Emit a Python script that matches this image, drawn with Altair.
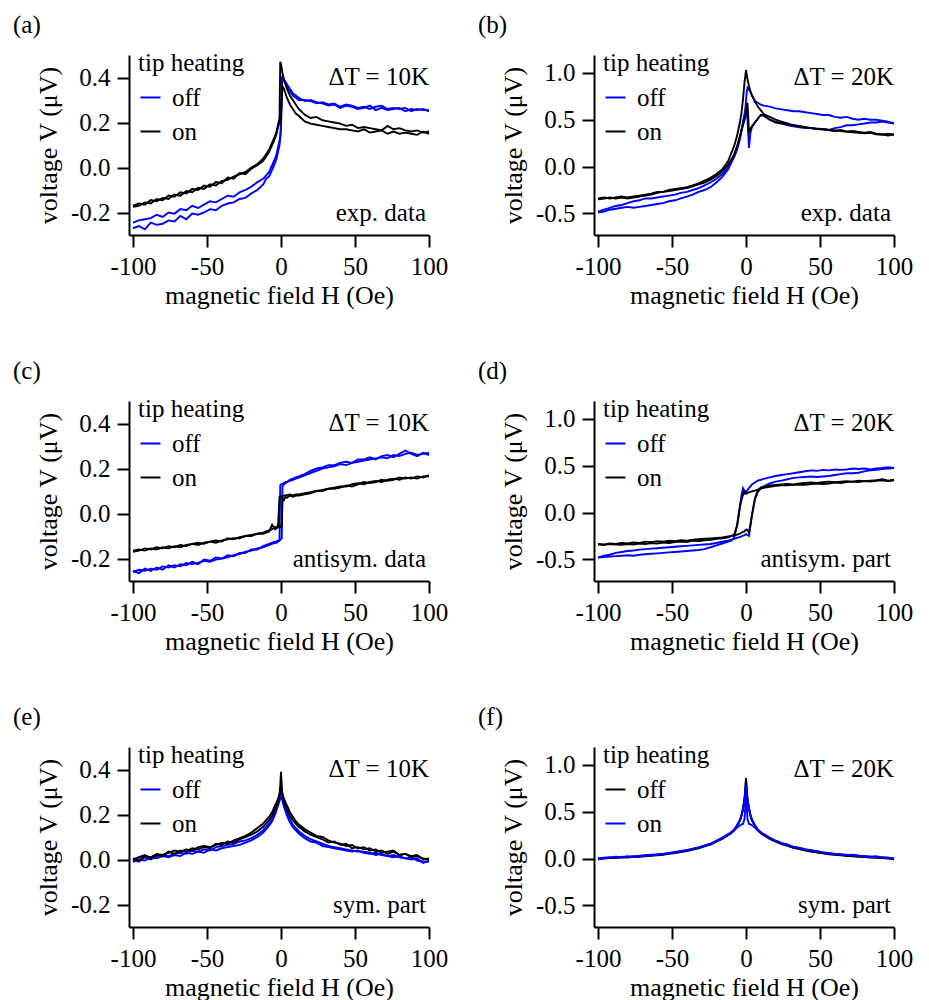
import altair as alt
import pandas as pd

# ---------------- field grid (Oe), shared by every branch ----------------
H = [-100, -96, -92, -88, -84, -80, -76, -72, -68, -64, -60, -56, -52, -48, -44, -40, -36, -32, -28, -24, -20, -16, -12,
     -10, -8, -6, -4, -3, -2, -1, -0.5, 0, 0.5, 1, 2, 3, 4, 6, 8, 10,
     12, 16, 20, 24, 28, 32, 36, 40, 44, 48, 52, 56, 60, 64, 68, 72, 76, 80, 84, 88, 92, 96, 100]

# ---------------- (a) exp. data, dT = 10K ----------------
a_off_up = [-0.27, -0.26, -0.275, -0.245, -0.255, -0.25, -0.235, -0.24, -0.215, -0.23, -0.205, -0.21, -0.2, -0.185, -0.19, -0.17, -0.16, -0.155, -0.14, -0.135, -0.115, -0.1, -0.075,
            -0.05, -0.04, -0.01, 0.02, 0.04, 0.07, 0.1, 0.13, 0.17, 0.3, 0.41, 0.39, 0.38, 0.36, 0.34, 0.32, 0.31,
            0.3, 0.3, 0.295, 0.285, 0.29, 0.28, 0.285, 0.27, 0.28, 0.275, 0.265, 0.27, 0.26, 0.27, 0.275, 0.26, 0.265, 0.26, 0.265, 0.25, 0.26, 0.255, 0.255]
a_off_dn = [-0.245, -0.235, -0.23, -0.225, -0.21, -0.22, -0.2, -0.205, -0.185, -0.19, -0.17, -0.18, -0.165, -0.15, -0.155, -0.14, -0.125, -0.13, -0.11, -0.1, -0.085, -0.065, -0.05,
            -0.035, -0.02, 0.01, 0.04, 0.06, 0.09, 0.12, 0.14, 0.2, 0.4, 0.4, 0.39, 0.38, 0.37, 0.35, 0.33, 0.32,
            0.31, 0.295, 0.3, 0.29, 0.285, 0.275, 0.28, 0.265, 0.275, 0.27, 0.26, 0.265, 0.275, 0.255, 0.265, 0.255, 0.26, 0.265, 0.25, 0.26, 0.255, 0.26, 0.25]
a_on_dn = [-0.17, -0.16, -0.165, -0.145, -0.15, -0.135, -0.14, -0.12, -0.125, -0.105, -0.11, -0.09, -0.095, -0.075, -0.08, -0.06, -0.055, -0.04, -0.03, -0.02, 0.0, 0.015, 0.04,
           0.06, 0.08, 0.11, 0.14, 0.16, 0.19, 0.22, 0.47, 0.46, 0.44, 0.42, 0.39, 0.37, 0.35, 0.32, 0.3, 0.28,
           0.26, 0.235, 0.22, 0.225, 0.21, 0.205, 0.2, 0.195, 0.185, 0.19, 0.175, 0.18, 0.175, 0.17, 0.165, 0.185, 0.17, 0.175, 0.165, 0.16, 0.165, 0.155, 0.16]
a_on_up = [-0.175, -0.17, -0.155, -0.16, -0.14, -0.145, -0.125, -0.13, -0.11, -0.115, -0.095, -0.1, -0.08, -0.085, -0.065, -0.07, -0.045, -0.05, -0.025, -0.03, -0.005, 0.01, 0.03,
           0.05, 0.07, 0.1, 0.13, 0.15, 0.18, 0.2, 0.21, 0.23, 0.3, 0.36, 0.35, 0.33, 0.31, 0.28, 0.26, 0.24,
           0.23, 0.205, 0.195, 0.19, 0.185, 0.18, 0.175, 0.17, 0.17, 0.165, 0.16, 0.17, 0.155, 0.16, 0.165, 0.15, 0.16, 0.15, 0.155, 0.15, 0.145, 0.16, 0.15]

# ---------------- (b) exp. data, dT = 20K ----------------
b_off_up = [-0.49, -0.48, -0.46, -0.45, -0.44, -0.43, -0.44, -0.43, -0.42, -0.41, -0.4, -0.39, -0.37, -0.36, -0.34, -0.32, -0.3, -0.27, -0.25, -0.22, -0.17, -0.11, -0.03,
            0.04, 0.11, 0.2, 0.32, 0.4, 0.48, 0.56, 0.6, 0.64, 0.58, 0.5, 0.2, 0.36, 0.42, 0.47, 0.51, 0.55,
            0.54, 0.5, 0.48, 0.46, 0.44, 0.43, 0.42, 0.41, 0.41, 0.4, 0.4, 0.39, 0.41, 0.42, 0.44, 0.44, 0.45, 0.46, 0.47, 0.47, 0.48, 0.47, 0.46]
b_off_dn = [-0.48, -0.46, -0.44, -0.42, -0.41, -0.39, -0.37, -0.36, -0.34, -0.34, -0.33, -0.32, -0.31, -0.3, -0.28, -0.27, -0.25, -0.23, -0.2, -0.17, -0.13, -0.08, -0.01,
            0.05, 0.1, 0.18, 0.3, 0.38, 0.46, 0.55, 0.6, 0.7, 0.8, 0.84, 0.82, 0.8, 0.76, 0.7, 0.68, 0.66,
            0.65, 0.64, 0.62, 0.61, 0.6, 0.59, 0.59, 0.58, 0.57, 0.56, 0.55, 0.55, 0.53, 0.52, 0.53, 0.51, 0.5, 0.51, 0.5, 0.5, 0.49, 0.48, 0.46]
b_on_dn = [-0.34, -0.33, -0.34, -0.33, -0.32, -0.33, -0.32, -0.31, -0.3, -0.29, -0.27, -0.27, -0.25, -0.24, -0.23, -0.22, -0.2, -0.18, -0.15, -0.12, -0.08, -0.03, 0.06,
           0.14, 0.22, 0.33, 0.48, 0.58, 0.72, 0.9, 0.96, 1.03, 0.98, 0.93, 0.86, 0.8, 0.76, 0.69, 0.64, 0.6,
           0.56, 0.53, 0.5, 0.48, 0.46, 0.44, 0.43, 0.42, 0.41, 0.4, 0.395, 0.39, 0.385, 0.38, 0.37, 0.365, 0.36, 0.355, 0.36, 0.345, 0.34, 0.35, 0.34]
b_on_up = [-0.35, -0.34, -0.33, -0.34, -0.33, -0.34, -0.33, -0.32, -0.31, -0.3, -0.28, -0.27, -0.26, -0.25, -0.24, -0.23, -0.21, -0.19, -0.17, -0.14, -0.1, -0.05, 0.02,
           0.07, 0.13, 0.22, 0.33, 0.39, 0.44, 0.5, 0.53, 0.58, 0.65, 0.68, 0.37, 0.4, 0.43, 0.47, 0.51, 0.55,
           0.55, 0.5, 0.47, 0.46, 0.45, 0.44, 0.43, 0.42, 0.41, 0.405, 0.4, 0.39, 0.38, 0.39, 0.375, 0.38, 0.37, 0.36, 0.37, 0.35, 0.345, 0.33, 0.345]

# ---------------- (c) antisym. data, dT = 10K ----------------
c_off_dn = [-0.26, -0.25, -0.255, -0.245, -0.25, -0.235, -0.24, -0.23, -0.235, -0.22, -0.225, -0.22, -0.21, -0.215, -0.205, -0.2, -0.195, -0.185, -0.18, -0.17, -0.165, -0.155, -0.15,
            -0.145, -0.14, -0.135, -0.13, -0.13, -0.125, -0.12, 0.125, 0.13, 0.13, 0.13, 0.135, 0.14, 0.14, 0.145, 0.15, 0.155,
            0.16, 0.17, 0.18, 0.19, 0.2, 0.205, 0.21, 0.22, 0.215, 0.225, 0.23, 0.235, 0.24, 0.245, 0.25, 0.245, 0.26, 0.255, 0.265, 0.27, 0.26, 0.265, 0.27]
c_off_up = [-0.255, -0.265, -0.245, -0.255, -0.24, -0.25, -0.23, -0.24, -0.225, -0.23, -0.215, -0.225, -0.205, -0.21, -0.195, -0.2, -0.185, -0.19, -0.175, -0.175, -0.16, -0.16, -0.145,
            -0.14, -0.135, -0.13, -0.125, -0.125, -0.12, -0.12, -0.115, -0.115, -0.11, 0.12, 0.13, 0.135, 0.14, 0.15, 0.155, 0.16,
            0.165, 0.175, 0.19, 0.2, 0.205, 0.215, 0.215, 0.225, 0.23, 0.225, 0.24, 0.24, 0.25, 0.24, 0.255, 0.26, 0.25, 0.265, 0.28, 0.265, 0.255, 0.27, 0.26]
c_on_dn = [-0.165, -0.16, -0.165, -0.155, -0.16, -0.15, -0.155, -0.145, -0.15, -0.14, -0.135, -0.14, -0.13, -0.125, -0.13, -0.12, -0.115, -0.11, -0.11, -0.1, -0.095, -0.09, -0.09,
           -0.085, -0.08, -0.05, -0.07, -0.065, -0.06, 0.075, 0.075, 0.075, 0.075, 0.078, 0.08, 0.08, 0.082, 0.085, 0.08, 0.085,
           0.085, 0.09, 0.095, 0.1, 0.105, 0.11, 0.115, 0.12, 0.12, 0.13, 0.135, 0.13, 0.14, 0.145, 0.14, 0.15, 0.155, 0.15, 0.16, 0.155, 0.165, 0.16, 0.17]
c_on_up = [-0.17, -0.165, -0.155, -0.16, -0.15, -0.155, -0.145, -0.15, -0.14, -0.145, -0.135, -0.13, -0.135, -0.125, -0.12, -0.125, -0.11, -0.115, -0.105, -0.1, -0.1, -0.09, -0.085,
           -0.08, -0.075, -0.07, -0.06, -0.065, -0.05, -0.06, -0.055, -0.06, -0.055, 0.07, 0.06, 0.075, 0.07, 0.08, 0.075, 0.08,
           0.08, 0.085, 0.09, 0.1, 0.1, 0.11, 0.11, 0.115, 0.125, 0.12, 0.13, 0.14, 0.135, 0.14, 0.15, 0.145, 0.15, 0.16, 0.155, 0.16, 0.155, 0.165, 0.165]

# ---------------- (d) antisym. part, dT = 20K ----------------
d_off_dn = [-0.48, -0.475, -0.47, -0.465, -0.46, -0.455, -0.46, -0.45, -0.445, -0.44, -0.435, -0.43, -0.425, -0.42, -0.415, -0.41, -0.405, -0.4, -0.39, -0.37, -0.35, -0.33, -0.31,
            -0.3, -0.27, -0.13, 0.08, 0.19, 0.26, 0.23, 0.22, 0.22, 0.23, 0.24, 0.26, 0.28, 0.3, 0.32, 0.34, 0.35,
            0.36, 0.375, 0.39, 0.4, 0.41, 0.42, 0.43, 0.44, 0.45, 0.445, 0.455, 0.45, 0.46, 0.455, 0.46, 0.47, 0.465, 0.47, 0.46, 0.47, 0.475, 0.485, 0.475]
d_off_up = [-0.48, -0.46, -0.45, -0.43, -0.42, -0.41, -0.405, -0.395, -0.39, -0.385, -0.38, -0.375, -0.37, -0.365, -0.36, -0.355, -0.35, -0.345, -0.34, -0.335, -0.325, -0.31, -0.3,
            -0.29, -0.28, -0.27, -0.26, -0.255, -0.245, -0.24, -0.235, -0.23, -0.235, -0.24, -0.25, -0.14, -0.03, 0.15, 0.24, 0.27,
            0.28, 0.31, 0.33, 0.34, 0.355, 0.37, 0.375, 0.38, 0.385, 0.38, 0.385, 0.39, 0.4, 0.41, 0.42, 0.42, 0.425, 0.44, 0.45, 0.455, 0.465, 0.47, 0.475]
d_on_dn = [-0.34, -0.345, -0.335, -0.34, -0.345, -0.335, -0.34, -0.33, -0.335, -0.325, -0.33, -0.32, -0.325, -0.315, -0.31, -0.315, -0.3, -0.305, -0.295, -0.29, -0.28, -0.275, -0.265,
           -0.25, -0.235, -0.14, 0.07, 0.14, 0.19, 0.24, 0.2, 0.2, 0.205, 0.21, 0.215, 0.22, 0.225, 0.235, 0.245, 0.255,
           0.265, 0.275, 0.285, 0.29, 0.29, 0.295, 0.3, 0.295, 0.305, 0.31, 0.305, 0.31, 0.32, 0.315, 0.325, 0.33, 0.325, 0.335, 0.33, 0.34, 0.345, 0.335, 0.345]
d_on_up = [-0.335, -0.34, -0.33, -0.335, -0.325, -0.33, -0.32, -0.325, -0.31, -0.315, -0.305, -0.31, -0.3, -0.305, -0.295, -0.3, -0.29, -0.285, -0.28, -0.275, -0.27, -0.265, -0.255,
           -0.25, -0.245, -0.235, -0.225, -0.215, -0.205, -0.2, -0.19, -0.185, -0.18, -0.19, -0.21, -0.13, -0.03, 0.14, 0.22, 0.26,
           0.275, 0.29, 0.295, 0.3, 0.305, 0.3, 0.31, 0.315, 0.32, 0.315, 0.325, 0.33, 0.325, 0.33, 0.335, 0.33, 0.34, 0.335, 0.34, 0.345, 0.355, 0.34, 0.35]

# ---------------- (e) sym. part, dT = 10K ----------------
e_off_1 = [-0.01, 0.0, -0.005, 0.01, 0.005, 0.015, 0.01, 0.02, 0.015, 0.03, 0.025, 0.035, 0.03, 0.045, 0.04, 0.05, 0.055, 0.06, 0.065, 0.075, 0.085, 0.1, 0.12,
           0.135, 0.15, 0.17, 0.2, 0.22, 0.24, 0.26, 0.27, 0.28, 0.27, 0.26, 0.235, 0.215, 0.195, 0.165, 0.145, 0.13,
           0.115, 0.095, 0.08, 0.075, 0.06, 0.055, 0.05, 0.045, 0.04, 0.035, 0.04, 0.03, 0.025, 0.03, 0.02, 0.015, 0.02, 0.01, 0.005, 0.01, -0.005, -0.01, -0.01]
e_off_2 = [0.0, -0.01, 0.01, 0.0, 0.015, 0.02, 0.015, 0.025, 0.03, 0.025, 0.04, 0.035, 0.045, 0.04, 0.055, 0.06, 0.065, 0.07, 0.08, 0.085, 0.095, 0.11, 0.13,
           0.145, 0.16, 0.18, 0.21, 0.23, 0.26, 0.28, 0.295, 0.31, 0.295, 0.28, 0.255, 0.23, 0.21, 0.18, 0.155, 0.14,
           0.125, 0.105, 0.09, 0.08, 0.07, 0.06, 0.055, 0.05, 0.045, 0.04, 0.035, 0.035, 0.03, 0.02, 0.025, 0.015, 0.01, 0.015, 0.005, 0.0, 0.005, -0.015, -0.005]
e_on_1 = [0.0, 0.01, 0.02, 0.005, 0.02, 0.015, 0.035, 0.025, 0.04, 0.035, 0.05, 0.045, 0.055, 0.05, 0.07, 0.065, 0.08, 0.075, 0.09, 0.1, 0.11, 0.125, 0.145,
          0.16, 0.175, 0.195, 0.22, 0.24, 0.26, 0.29, 0.33, 0.39, 0.33, 0.29, 0.26, 0.24, 0.22, 0.195, 0.175, 0.16,
          0.145, 0.125, 0.11, 0.1, 0.09, 0.075, 0.08, 0.065, 0.07, 0.05, 0.055, 0.045, 0.05, 0.035, 0.04, 0.025, 0.035, 0.02, 0.025, 0.01, 0.015, 0.005, 0.0]
e_on_2 = [0.005, -0.005, 0.015, 0.01, 0.025, 0.02, 0.03, 0.04, 0.035, 0.045, 0.04, 0.055, 0.06, 0.055, 0.065, 0.075, 0.07, 0.085, 0.095, 0.105, 0.12, 0.14, 0.16,
          0.175, 0.19, 0.21, 0.24, 0.255, 0.27, 0.29, 0.3, 0.31, 0.3, 0.29, 0.27, 0.255, 0.24, 0.21, 0.19, 0.17,
          0.155, 0.135, 0.12, 0.105, 0.1, 0.085, 0.075, 0.07, 0.06, 0.065, 0.05, 0.055, 0.04, 0.045, 0.03, 0.035, 0.04, 0.02, 0.025, 0.015, 0.02, 0.0, 0.005]

# ---------------- (f) sym. part, dT = 20K ----------------
f_off_1 = [0.0, 0.005, 0.01, 0.005, 0.015, 0.01, 0.02, 0.02, 0.025, 0.03, 0.035, 0.04, 0.05, 0.06, 0.07, 0.08, 0.095, 0.11, 0.13, 0.15, 0.18, 0.21, 0.25,
           0.27, 0.3, 0.35, 0.41, 0.46, 0.53, 0.63, 0.72, 0.86, 0.72, 0.63, 0.53, 0.46, 0.41, 0.35, 0.3, 0.27,
           0.25, 0.21, 0.18, 0.155, 0.135, 0.115, 0.1, 0.085, 0.075, 0.065, 0.055, 0.045, 0.04, 0.035, 0.03, 0.025, 0.02, 0.015, 0.01, 0.01, 0.005, 0.0, -0.005]
f_off_2 = [-0.005, 0.0, 0.005, 0.01, 0.01, 0.015, 0.015, 0.025, 0.03, 0.035, 0.04, 0.045, 0.055, 0.065, 0.075, 0.085, 0.1, 0.115, 0.135, 0.155, 0.185, 0.215, 0.255,
           0.275, 0.305, 0.355, 0.415, 0.465, 0.54, 0.64, 0.73, 0.84, 0.73, 0.64, 0.54, 0.465, 0.415, 0.355, 0.305, 0.275,
           0.255, 0.215, 0.185, 0.16, 0.14, 0.12, 0.105, 0.09, 0.08, 0.07, 0.06, 0.05, 0.045, 0.04, 0.03, 0.03, 0.025, 0.02, 0.015, 0.01, 0.005, 0.005, 0.0]
f_on_1 = [0.0, 0.01, 0.015, 0.01, 0.02, 0.015, 0.025, 0.025, 0.03, 0.035, 0.04, 0.05, 0.055, 0.065, 0.075, 0.09, 0.1, 0.12, 0.135, 0.155, 0.185, 0.22, 0.26,
          0.28, 0.3, 0.33, 0.355, 0.365, 0.37, 0.42, 0.55, 0.78, 0.55, 0.42, 0.37, 0.365, 0.355, 0.33, 0.3, 0.28,
          0.26, 0.225, 0.19, 0.165, 0.145, 0.125, 0.11, 0.095, 0.085, 0.075, 0.065, 0.055, 0.05, 0.045, 0.04, 0.035, 0.03, 0.025, 0.02, 0.015, 0.015, 0.01, 0.0]
f_on_2 = [-0.01, 0.005, 0.01, 0.02, 0.015, 0.025, 0.02, 0.03, 0.035, 0.04, 0.045, 0.05, 0.06, 0.07, 0.08, 0.09, 0.105, 0.12, 0.14, 0.16, 0.19, 0.225, 0.26,
          0.28, 0.31, 0.355, 0.41, 0.46, 0.53, 0.62, 0.7, 0.78, 0.7, 0.62, 0.53, 0.46, 0.41, 0.355, 0.31, 0.28,
          0.26, 0.22, 0.19, 0.165, 0.15, 0.125, 0.115, 0.1, 0.09, 0.08, 0.065, 0.06, 0.05, 0.045, 0.035, 0.04, 0.03, 0.025, 0.02, 0.025, 0.01, 0.01, -0.01]

X_TICKS = [-100, -50, 0, 50, 100]
Y_TICKS_SMALL = [-0.2, 0.0, 0.2, 0.4]
Y_TICKS_LARGE = [-0.5, 0.0, 0.5, 1.0]

FONT = "Liberation Serif"
BLUE = "#0000ff"
BLACK = "#000000"
W, HT = 300, 180
FS = 25


def frame(state, branches):
    rows = []
    for b, vals in enumerate(branches):
        assert len(vals) == len(H)
        for i, (h, v) in enumerate(zip(H, vals)):
            rows.append({"H": h, "V": v, "state": state, "branch": f"{state}{b}", "i": i})
    return pd.DataFrame(rows)


def panel(label, dt, note, off, on, colors, ydom, yticks):
    x = alt.X("H:Q", scale=alt.Scale(domain=[-102.7, 100], nice=False, zero=False),
              axis=alt.Axis(values=X_TICKS, title="magnetic field H (Oe)", labelFlush=False,
                            labelExpr="datum.value < 0 ? '-' + format(-datum.value, 'd') : format(datum.value, 'd')"))
    y = alt.Y("V:Q", scale=alt.Scale(domain=ydom, nice=False, zero=False),
              axis=alt.Axis(values=yticks, title="voltage V (μV)", labelFlush=False,
                            labelExpr="datum.value < 0 ? '-' + format(-datum.value, '.1f') : format(datum.value, '.1f')"))
    color = alt.Color("state:N", scale=alt.Scale(domain=["off", "on"], range=colors),
                      legend=alt.Legend(title="tip heating", orient="none", legendX=9, legendY=-4,
                                        symbolType="stroke", symbolSize=400, symbolStrokeWidth=2,
                                        symbolOffset=0, labelOffset=9, rowPadding=8, titlePadding=9,
                                        padding=0))
    l_off = alt.Chart(frame("off", off)).mark_line(strokeWidth=1.9).encode(
        x=x, y=y, color=color, detail="branch:N", order="i:Q")
    l_on = alt.Chart(frame("on", on)).mark_line(strokeWidth=1.9).encode(
        x=x, y=y, color=color, detail="branch:N", order="i:Q")
    t_dt = alt.Chart(pd.DataFrame({"t": [dt]})).mark_text(
        align="right", baseline="middle", font=FONT, fontSize=FS, color="black").encode(
        text="t:N", x=alt.value(W), y=alt.value(22))
    t_note = alt.Chart(pd.DataFrame({"t": [note]})).mark_text(
        align="right", baseline="middle", font=FONT, fontSize=FS, color="black").encode(
        text="t:N", x=alt.value(W - 3), y=alt.value(158))
    return alt.layer(l_off, l_on, t_dt, t_note).properties(
        width=W, height=HT,
        title=alt.TitleParams(label, anchor="start", frame="group", dx=-116, offset=13,
                              font=FONT, fontSize=FS, fontWeight="normal", color="black"))


pa = panel("(a)", "ΔT = 10K", "exp. data", [a_off_up, a_off_dn], [a_on_dn, a_on_up],
           [BLUE, BLACK], [-0.3, 0.5], Y_TICKS_SMALL)
pb = panel("(b)", "ΔT = 20K", "exp. data", [b_off_up, b_off_dn], [b_on_dn, b_on_up],
           [BLUE, BLACK], [-0.73, 1.19], Y_TICKS_LARGE)
pc = panel("(c)", "ΔT = 10K", "antisym. data", [c_off_dn, c_off_up], [c_on_dn, c_on_up],
           [BLUE, BLACK], [-0.3, 0.5], Y_TICKS_SMALL)
pd_ = panel("(d)", "ΔT = 20K", "antisym. part", [d_off_dn, d_off_up], [d_on_dn, d_on_up],
            [BLUE, BLACK], [-0.73, 1.19], Y_TICKS_LARGE)
pe = panel("(e)", "ΔT = 10K", "sym. part", [e_off_1, e_off_2], [e_on_1, e_on_2],
           [BLUE, BLACK], [-0.3, 0.5], Y_TICKS_SMALL)
pf = panel("(f)", "ΔT = 20K", "sym. part", [f_off_1, f_off_2], [f_on_1, f_on_2],
           [BLACK, BLUE], [-0.73, 1.19], Y_TICKS_LARGE)


def row(l, r):
    return alt.hconcat(l, r, spacing=30).resolve_scale(color="independent").resolve_legend(color="independent")


chart = alt.vconcat(row(pa, pb), row(pc, pd_), row(pe, pf), spacing=51).resolve_scale(
    color="independent").resolve_legend(color="independent").configure(
    font=FONT, padding=5
).configure_view(stroke=None).configure_axis(
    domainColor="black", domainWidth=2, tickColor="black", tickWidth=2, tickSize=12,
    labelFont=FONT, labelFontSize=25, labelColor="black", labelPadding=7,
    titleFont=FONT, titleFontSize=26, titleFontWeight="normal", titleColor="black",
    grid=False, labelOverlap=False
).configure_axisY(titlePadding=9).configure_axisX(titlePadding=3).configure_legend(
    titleFont=FONT, titleFontSize=FS, titleFontWeight="normal", titleColor="black",
    labelFont=FONT, labelFontSize=FS, labelColor="black"
)

chart.save("out.html", embed_options={"renderer": "svg", "actions": False})
